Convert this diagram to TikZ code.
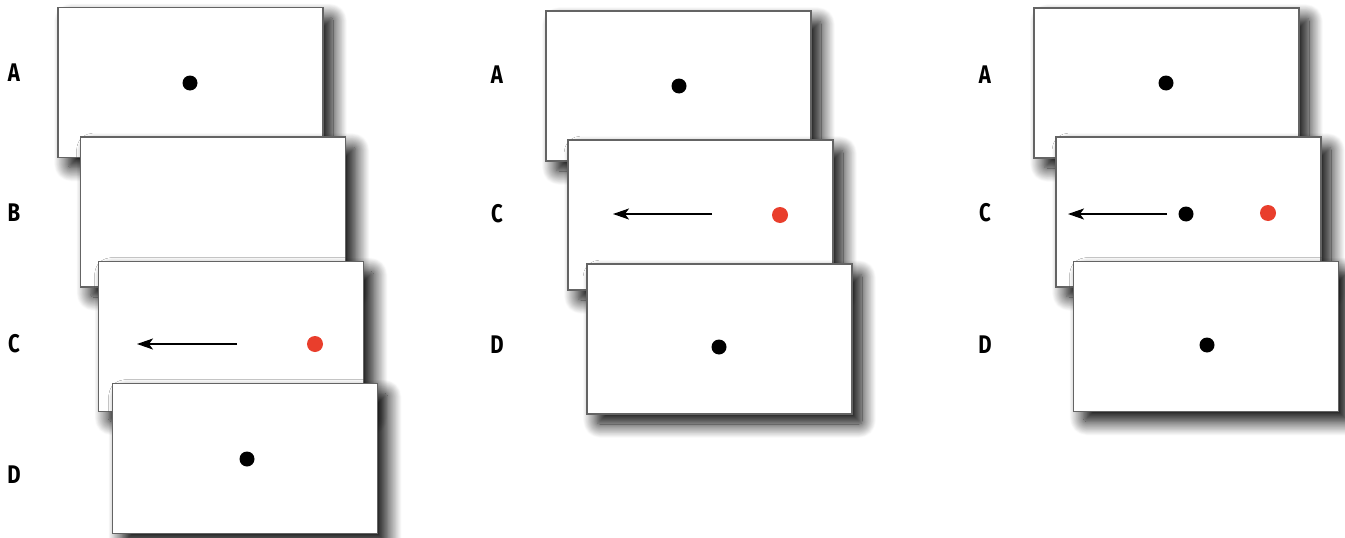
\documentclass[tikz,border=0pt]{standalone}
\usepackage{fontspec}
\setmainfont{Fira Sans}
\usetikzlibrary{arrows.meta,shadows.blur}
\definecolor{dotred}{RGB}{233,62,44}
\definecolor{cardedge}{RGB}{100,100,100}
\tikzset{
  card/.style={rectangle, draw=cardedge, line width=1.5pt, fill=white,
    minimum width=265pt, minimum height=150pt, inner sep=0pt,
    blur shadow={shadow xshift=10pt, shadow yshift=-10pt, shadow blur radius=14pt, shadow blur steps=20, shadow opacity=100, shadow blur extra rounding=3pt}},
  bdot/.style={circle, fill=black, inner sep=0pt, minimum size=15pt},
  rdot/.style={circle, fill=dotred, inner sep=0pt, minimum size=16pt},
  lab/.style={inner sep=0pt, font=\fontsize{25.5pt}{27pt}\selectfont\bfseries},
  arr/.style={line width=1.4pt, -{Stealth[length=16pt, width=11pt, inset=4pt]}}
}
\newcommand{\cl}[1]{\scalebox{0.8}[1]{#1}}
\begin{document}
\begin{tikzpicture}[x=1pt, y=-1pt]
\useasboundingbox (0,0) rectangle (1345,538);
% ---------- panel 1 ----------
\node[lab] (l1a) at (14,73) {\cl{A}};
\node[lab] (l1b) at (14,213) {\cl{B}};
\node[lab] (l1c) at (14,344) {\cl{C}};
\node[lab] (l1d) at (14,475) {\cl{D}};
\node[card] (p1a) at (190.5,82.5) {};
\node[bdot] (p1adot) at (190,83) {};
\node[card] (p1b) at (213,212) {};
\node[card] (p1c) at (231,336.5) {};
\coordinate (p1cs) at (237,344);
\coordinate (p1ce) at (137,344);
\draw[arr] (p1cs) -- (p1ce);
\node[rdot] (p1cdot) at (315,344) {};
\node[card] (p1d) at (245,458.5) {};
\node[bdot] (p1ddot) at (247,459) {};
% ---------- panel 2 ----------
\node[lab] (l2a) at (497,75) {\cl{A}};
\node[lab] (l2c) at (497,214) {\cl{C}};
\node[lab] (l2d) at (497,345) {\cl{D}};
\node[card] (p2a) at (678.5,86) {};
\node[bdot] (p2adot) at (679,86) {};
\node[card] (p2c) at (700.5,215) {};
\coordinate (p2cs) at (712,214);
\coordinate (p2ce) at (613,214);
\draw[arr] (p2cs) -- (p2ce);
\node[rdot] (p2cdot) at (780,215) {};
\node[card] (p2d) at (719.5,339) {};
\node[bdot] (p2ddot) at (719,347) {};
% ---------- panel 3 ----------
\node[lab] (l3a) at (985,75) {\cl{A}};
\node[lab] (l3c) at (985,213) {\cl{C}};
\node[lab] (l3d) at (985,345) {\cl{D}};
\node[card] (p3a) at (1166.5,83) {};
\node[bdot] (p3adot) at (1166,83) {};
\node[card] (p3c) at (1188.5,212) {};
\coordinate (p3cs) at (1167,214);
\coordinate (p3ce) at (1068,214);
\draw[arr] (p3cs) -- (p3ce);
\node[bdot] (p3cdot) at (1186,214) {};
\node[rdot] (p3crdot) at (1268,213) {};
\node[card] (p3d) at (1206,336.5) {};
\node[bdot] (p3ddot) at (1207,345) {};
\end{tikzpicture}
\end{document}
